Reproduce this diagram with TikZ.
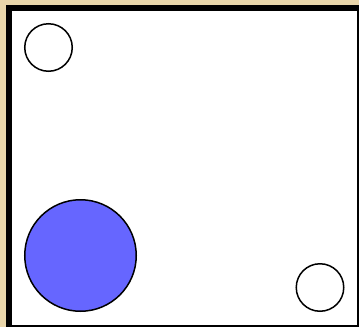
\documentclass[tikz,border=0pt]{standalone}
\usepackage{xcolor}
\usepackage{tikz}

\definecolor{parchment}{HTML}{E9D6AA}
\definecolor{ballblue}{HTML}{6666FF}

\begin{document}
\begin{tikzpicture}[
        x=1pt, y=-1pt,
        % --- Sizing of the balls ---
        ball/.style={
            circle,
            draw=black,
            line width=1.5pt,
            inner sep=0pt
        },
        smallball/.style={ball, fill=white, minimum size=47.5pt},
        bigball/.style={ball, fill=ballblue, minimum size=111.5pt}
    ]

    % ==================== 1. BACKGROUND & FRAME ====================
    \useasboundingbox (0,0) rectangle (359,327);
    \fill[parchment] (0,0) rectangle (359,327);
    \fill[black] (6,5) rectangle (359,327);
    \fill[white] (12,11) rectangle (357,324.5);

    % ==================== 2. BALLS ====================
    \node[smallball] (topball)   at (48.5,47.5)  {};
    \node[bigball]   (blueball)  at (80.5,255.5) {};
    \node[smallball] (cornerball) at (320,287.5) {};

\end{tikzpicture}
\end{document}
